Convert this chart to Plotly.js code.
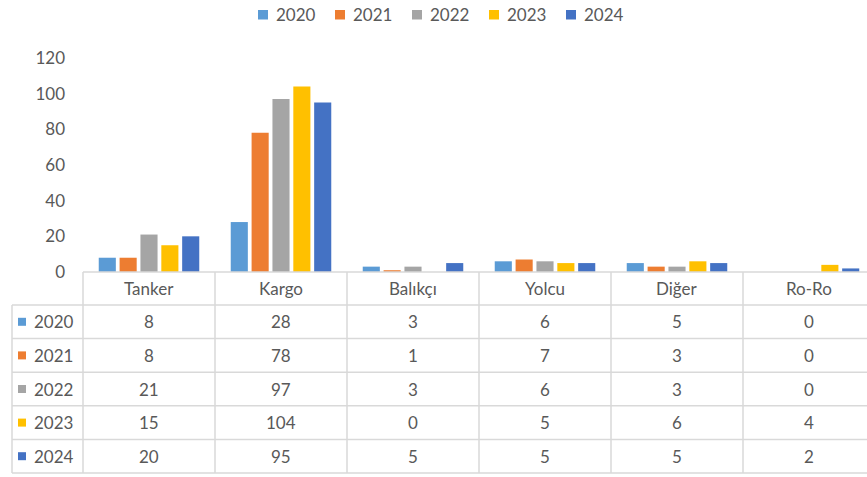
<!DOCTYPE html>
<html>
<head>
<meta charset="utf-8">
<script src="https://cdn.plot.ly/plotly-3.0.1.min.js"></script>
<style>html,body{margin:0;padding:0;background:#fff;}#chart{width:867px;height:477px;}</style>
</head>
<body>
<div id="chart"></div>
<script>
const categories = ["Tanker", "Kargo", "Balıkçı", "Yolcu", "Diğer", "Ro-Ro"];
const years = ["2020", "2021", "2022", "2023", "2024"];
const v2020 = [8, 28, 3, 6, 5, 0];
const v2021 = [8, 78, 1, 7, 3, 0];
const v2022 = [21, 97, 3, 6, 3, 0];
const v2023 = [15, 104, 0, 5, 6, 4];
const v2024 = [20, 95, 5, 5, 5, 2];
const colors = ["#5B9BD5", "#ED7D31", "#A5A5A5", "#FFC000", "#4472C4"];

const series = [v2020, v2021, v2022, v2023, v2024];
const W = 867, H = 477;
const L = 83, T = 49, PB = 272; // plot left, top, bottom (px)
const PW = W - L, PH = PB - T;
const xp = px => (px - L) / PW;
const yp = py => (PB - py) / PH;
const font = "Lato, 'Open Sans', sans-serif";
const gray = "#595959";
const lineCol = "#d9d9d9";

const traces = series.map((vals, i) => ({
  type: "bar",
  name: years[i],
  x: categories,
  y: vals,
  marker: {color: colors[i], line: {width: 0}},
  showlegend: false,
  hoverinfo: "x+y+name"
}));

const shapes = [];
const annotations = [];
// legend (top, centred)
years.forEach((yr, i) => {
  const sx = 258 + 77 * i;
  shapes.push({type: "rect", xref: "paper", yref: "paper", x0: xp(sx), x1: xp(sx + 10), y0: yp(10), y1: yp(19.5),
    fillcolor: colors[i], line: {width: 0}});
  annotations.push({xref: "paper", yref: "paper", x: xp(sx + 16), y: yp(14.5), text: yr, showarrow: false,
    font: {family: font, size: 17, color: gray}, xanchor: "left", yanchor: "middle"});
});
// data table
const headTop = 272, headBot = 305, rowH = (473 - 305) / 5, left = 12;
shapes.push({type: "line", xref: "paper", yref: "paper", x0: 0, x1: 1, y0: yp(headTop), y1: yp(headTop), line: {color: lineCol, width: 1.5}});
for (let r = 0; r <= 5; r++) {
  const py = headBot + r * rowH;
  shapes.push({type: "line", xref: "paper", yref: "paper", x0: xp(left), x1: 1, y0: yp(py), y1: yp(py), line: {color: lineCol, width: 1.5}});
}
shapes.push({type: "line", xref: "paper", yref: "paper", x0: xp(left), x1: xp(left), y0: yp(headBot), y1: yp(473), line: {color: lineCol, width: 1.5}});
shapes.push({type: "line", xref: "paper", yref: "paper", x0: 0, x1: 0, y0: yp(headTop), y1: yp(473), line: {color: lineCol, width: 1.5}});
for (let k = 1; k < categories.length; k++) {
  shapes.push({type: "line", xref: "x", yref: "paper", x0: k - 0.5, x1: k - 0.5, y0: yp(headTop), y1: yp(473), line: {color: lineCol, width: 1.5}});
}
categories.forEach(c => {
  annotations.push({xref: "x", yref: "paper", x: c, y: yp((headTop + headBot) / 2), text: c, showarrow: false,
    font: {family: font, size: 17, color: gray}, xanchor: "center", yanchor: "middle"});
});
series.forEach((vals, r) => {
  const cy = headBot + (r + 0.5) * rowH;
  shapes.push({type: "rect", xref: "paper", yref: "paper", x0: xp(18), x1: xp(26), y0: yp(cy - 4), y1: yp(cy + 4), fillcolor: colors[r], line: {width: 0}});
  annotations.push({xref: "paper", yref: "paper", x: xp(32), y: yp(cy), text: years[r], showarrow: false,
    font: {family: font, size: 17, color: gray}, xanchor: "left", yanchor: "middle"});
  vals.forEach((v, k) => {
    annotations.push({xref: "x", yref: "paper", x: categories[k], y: yp(cy), text: String(v), showarrow: false,
      font: {family: font, size: 17, color: gray}, xanchor: "center", yanchor: "middle"});
  });
});

const layout = {
  width: W, height: H,
  margin: {l: L, r: 0, t: T, b: H - PB, pad: 0},
  paper_bgcolor: "#fff", plot_bgcolor: "#fff",
  barmode: "group", bargap: 0.21, bargroupgap: 0.18,
  showlegend: false,
  xaxis: {type: "category", range: [-0.5, -0.5 + PW / 132], showticklabels: false, showgrid: false,
    zeroline: false, showline: false, ticks: "", fixedrange: true},
  yaxis: {range: [0, 125], dtick: 20, tick0: 0, showgrid: false, zeroline: false, showline: false, ticks: "",
    ticklabelstandoff: 17, tickfont: {family: font, size: 17, color: gray}, fixedrange: true},
  shapes: shapes,
  annotations: annotations
};
Plotly.newPlot("chart", traces, layout, {displayModeBar: false, staticPlot: true});
</script>
</body>
</html>
